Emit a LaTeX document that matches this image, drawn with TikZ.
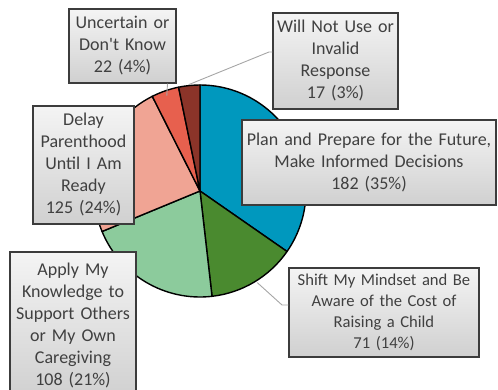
\documentclass[tikz,border=0pt]{standalone}
\usepackage{fontspec}
\setmainfont{Carlito}[Ligatures=TeXOff]
\usetikzlibrary{calc}
\definecolor{blueS}{HTML}{0098BE}
\definecolor{dgreen}{HTML}{4A8A2F}
\definecolor{lgreen}{HTML}{8CCB9C}
\definecolor{salmon}{HTML}{F0A494}
\definecolor{redS}{HTML}{E7604E}
\definecolor{dred}{HTML}{8B3429}
\definecolor{boxtop}{HTML}{F4F4F4}
\definecolor{boxbot}{HTML}{D0D0D0}
\definecolor{boxline}{HTML}{3C3C3C}
\definecolor{txt}{HTML}{404040}
\definecolor{leadgray}{HTML}{A6A6A6}
\begin{document}
\begin{tikzpicture}[x=1pt,y=-1pt,
  slice/.style={draw=black, line width=1.4pt, line join=round},
  lbox/.style={draw=boxline, line width=1.4pt, top color=boxtop, bottom color=boxbot,
    inner sep=0pt, align=center, text=txt, font=\fontsize{18}{22}\selectfont},
  leader/.style={draw=leadgray, line width=0.9pt}]
\useasboundingbox (0,0) rectangle (498,390);
\coordinate (c) at (200,191);
\def\R{106}
\filldraw[slice, fill=blueS]  (c) -- ++(-90:\R)   arc[start angle=-90,   end angle=34.8,   radius=\R] -- cycle;
\filldraw[slice, fill=dgreen] (c) -- ++(34.8:\R)  arc[start angle=34.8,  end angle=83.49,  radius=\R] -- cycle;
\filldraw[slice, fill=lgreen] (c) -- ++(83.49:\R) arc[start angle=83.49, end angle=157.54, radius=\R] -- cycle;
\filldraw[slice, fill=salmon] (c) -- ++(157.54:\R) arc[start angle=157.54, end angle=243.26, radius=\R] -- cycle;
\filldraw[slice, fill=redS]   (c) -- ++(243.26:\R) arc[start angle=243.26, end angle=258.34, radius=\R] -- cycle;
\filldraw[slice, fill=dred]   (c) -- ++(258.34:\R) arc[start angle=258.34, end angle=270,    radius=\R] -- cycle;

\coordinate (p1) at ($(c)+(250.8:101)$);
\coordinate (p2) at ($(c)+(264:107)$);
\coordinate (p6) at ($(c)+(58:108)$);

\node[lbox, minimum width=107, minimum height=74, text width=103] (b1) at (122.5,46)
  {Uncertain or\\Don\textquotesingle t Know\\22 (4\%)};
\node[lbox, minimum width=125, minimum height=96, text width=121] (b2) at (335.5,61)
  {Will Not Use or\\Invalid\\Response\\17 (3\%)};
\node[lbox, minimum width=254, minimum height=85, text width=250] (b3) at (369,162.5)
  {Plan and Prepare for the Future,\\Make Informed Decisions\\182 (35\%)};
\node[lbox, minimum width=101, minimum height=118, text width=97] (b4) at (83.5,165)
  {Delay\\Parenthood\\Until I Am\\Ready\\125 (24\%)};
\node[lbox, minimum width=126, minimum height=146, text width=122] (b5) at (73,325)
  {Apply My\\Knowledge to\\Support Others\\or My Own\\Caregiving\\108 (21\%)};
\node[lbox, minimum width=190, minimum height=89, text width=186,
  font=\fontsize{16.6}{21}\selectfont] (b6) at (384,312.5)
  {Shift My Mindset and Be\\Aware of the Cost of\\Raising a Child\\71 (14\%)};

\coordinate (k2) at (269,52);
\coordinate (k6) at (282,305);
\draw[leader] ([xshift=45pt]b1.south) -- (p1);
\draw[leader] ([yshift=9pt]b2.west) -- (k2) -- (p2);
\draw[leader] ([yshift=7.5pt]b6.west) -- (k6) -- (p6);
\end{tikzpicture}
\end{document}
